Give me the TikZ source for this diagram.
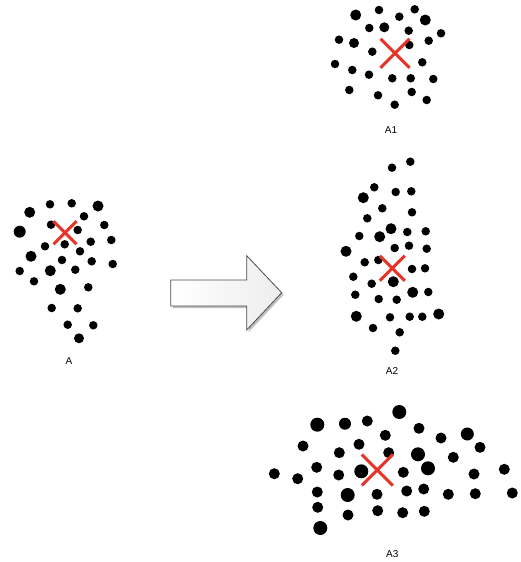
\documentclass[tikz,border=0pt]{standalone}
\usepackage{fontspec}
\setmainfont{Liberation Sans}
\usetikzlibrary{shapes.misc}
\definecolor{crossred}{RGB}{232,52,40}
\tikzset{%
  small dot/.style={
    circle,
    fill=black,
    inner sep=0pt,
    minimum size=8.5pt
  },
  big dot/.style={
    small dot,
    minimum size=11pt
  },
  small dot3/.style={
    small dot,
    minimum size=11pt
  },
  big dot3/.style={
    small dot,
    minimum size=14pt
  },
  centre mark/.style={
    cross out,
    draw=crossred,
    line width=3pt,
    inner sep=0pt,
    minimum size=#1
  },
  set label/.style={
    font=\fontsize{10}{12}\selectfont
  },
}

\begin{document}
\begin{tikzpicture}[x=1pt,y=-1pt]%[ultra thick]
  \useasboundingbox (0,0) rectangle (521,562);
  % set A
  \node [big dot ] (a-1) at ( 29.7 ,212.3) { } ;
  \node [small dot ] (a-2) at ( 50 ,204.3) { } ;
  \node [small dot ] (a-3) at ( 71.7 ,203.3) { } ;
  \node [big dot ] (a-4) at ( 98 ,206) { } ;
  \node [small dot ] (a-5) at ( 84 ,216.3) { } ;
  \node [big dot, minimum size=12pt ] (a-6) at ( 19.7 ,231.7) { } ;
  \node [small dot ] (a-7) at ( 51 ,224.7) { } ;
  \node [small dot ] (a-8) at ( 104.3 ,225) { } ;
  \node [small dot ] (a-9) at ( 77.7 ,230) { } ;
  \node [small dot ] (a-10) at ( 45 ,246.3) { } ;
  \node [small dot ] (a-11) at ( 64.7 ,244.3) { } ;
  \node [small dot ] (a-12) at ( 90.7 ,241.7) { } ;
  \node [small dot ] (a-13) at ( 111.3 ,240) { } ;
  \node [big dot ] (a-14) at ( 31 ,256.3) { } ;
  \node [small dot ] (a-15) at ( 80 ,251.3) { } ;
  \node [small dot ] (a-16) at ( 62 ,260) { } ;
  \node [small dot ] (a-17) at ( 91.7 ,261.3) { } ;
  \node [small dot ] (a-18) at ( 112.7 ,264) { } ;
  \node [small dot ] (a-19) at ( 19.7 ,271) { } ;
  \node [big dot ] (a-20) at ( 50.3 ,270.7) { } ;
  \node [small dot ] (a-21) at ( 75.3 ,269.7) { } ;
  \node [small dot ] (a-22) at ( 34 ,281.3) { } ;
  \node [big dot ] (a-23) at ( 60.3 ,289.3) { } ;
  \node [small dot ] (a-24) at ( 88.3 ,287.3) { } ;
  \node [small dot ] (a-25) at ( 51.7 ,308) { } ;
  \node [small dot ] (a-26) at ( 77.7 ,308.3) { } ;
  \node [small dot ] (a-27) at ( 67.7 ,324.7) { } ;
  \node [small dot ] (a-28) at ( 93.3 ,325.3) { } ;
  \node [big dot, minimum size=10pt ] (a-29) at ( 79 ,338.3) { } ;
  \node [centre mark=20pt ] (x-a) at ( 65 ,232.7) { } ;
  \node [set label ] (l-a) at ( 69 ,361) {A};
  % set A1
  \node [big dot ] (b-1) at ( 355.7 ,15) { } ;
  \node [small dot ] (b-2) at ( 379 ,10) { } ;
  \node [small dot ] (b-3) at ( 399.3 ,16.7) { } ;
  \node [small dot ] (b-4) at ( 414.7 ,9.3) { } ;
  \node [big dot ] (b-5) at ( 425.3 ,20) { } ;
  \node [small dot ] (b-6) at ( 369.3 ,28) { } ;
  \node [big dot, minimum size=10pt ] (b-7) at ( 384.3 ,27.3) { } ;
  \node [small dot ] (b-8) at ( 408.7 ,30.7) { } ;
  \node [small dot ] (b-9) at ( 441 ,33.3) { } ;
  \node [small dot ] (b-10) at ( 339 ,39.7) { } ;
  \node [big dot, minimum size=10pt ] (b-11) at ( 354 ,43) { } ;
  \node [small dot ] (b-12) at ( 428.7 ,40.7) { } ;
  \node [small dot ] (b-13) at ( 409.3 ,45) { } ;
  \node [small dot ] (b-14) at ( 372.3 ,51.7) { } ;
  \node [small dot ] (b-15) at ( 335 ,64) { } ;
  \node [small dot ] (b-16) at ( 352.3 ,70) { } ;
  \node [small dot ] (b-17) at ( 422.3 ,62.3) { } ;
  \node [small dot ] (b-18) at ( 369 ,74.7) { } ;
  \node [small dot ] (b-19) at ( 392.3 ,78.3) { } ;
  \node [small dot ] (b-20) at ( 410.7 ,78.3) { } ;
  \node [small dot ] (b-21) at ( 433.3 ,79) { } ;
  \node [small dot ] (b-22) at ( 349.3 ,90) { } ;
  \node [small dot ] (b-23) at ( 378 ,95.3) { } ;
  \node [small dot ] (b-24) at ( 411.7 ,92) { } ;
  \node [small dot ] (b-25) at ( 426.7 ,100) { } ;
  \node [small dot ] (b-26) at ( 394.7 ,104.7) { } ;
  \node [centre mark=26pt ] (x-b) at ( 395 ,53.3) { } ;
  \node [set label ] (l-b) at ( 391 ,130.5) {A1};
  % set A2
  \node [small dot ] (c-1) at ( 392 ,167.7) { } ;
  \node [small dot ] (c-2) at ( 410.3 ,161.7) { } ;
  \node [small dot ] (c-3) at ( 374.3 ,187.3) { } ;
  \node [big dot ] (c-4) at ( 363.3 ,197.7) { } ;
  \node [small dot ] (c-5) at ( 395.7 ,192) { } ;
  \node [small dot ] (c-6) at ( 411.3 ,191.3) { } ;
  \node [small dot ] (c-7) at ( 382.3 ,208.3) { } ;
  \node [small dot ] (c-8) at ( 412 ,212.3) { } ;
  \node [small dot ] (c-9) at ( 367.3 ,218.3) { } ;
  \node [big dot ] (c-10) at ( 391 ,228.7) { } ;
  \node [small dot ] (c-11) at ( 359.3 ,236) { } ;
  \node [big dot ] (c-12) at ( 379.7 ,236.7) { } ;
  \node [small dot ] (c-13) at ( 407.3 ,232) { } ;
  \node [small dot ] (c-14) at ( 425.7 ,231.3) { } ;
  \node [big dot ] (c-15) at ( 346 ,251.3) { } ;
  \node [small dot ] (c-16) at ( 394.7 ,248) { } ;
  \node [small dot ] (c-17) at ( 409 ,245.7) { } ;
  \node [small dot ] (c-18) at ( 426.7 ,248.7) { } ;
  \node [small dot ] (c-19) at ( 364.7 ,262.3) { } ;
  \node [small dot ] (c-20) at ( 378.3 ,260) { } ;
  \node [small dot ] (c-21) at ( 412 ,269) { } ;
  \node [small dot ] (c-22) at ( 425 ,268.3) { } ;
  \node [small dot ] (c-23) at ( 353.3 ,276.7) { } ;
  \node [small dot ] (c-24) at ( 371.7 ,283.7) { } ;
  \node [big dot ] (c-25) at ( 393.3 ,281.7) { } ;
  \node [small dot ] (c-26) at ( 355.3 ,294.7) { } ;
  \node [small dot ] (c-27) at ( 378.7 ,299) { } ;
  \node [small dot ] (c-28) at ( 396.7 ,299.7) { } ;
  \node [big dot ] (c-29) at ( 412.7 ,292.3) { } ;
  \node [small dot ] (c-30) at ( 428.3 ,292) { } ;
  \node [big dot ] (c-31) at ( 356.3 ,316.3) { } ;
  \node [small dot ] (c-32) at ( 390 ,317.3) { } ;
  \node [small dot ] (c-33) at ( 409.7 ,316.7) { } ;
  \node [small dot ] (c-34) at ( 422.3 ,316.7) { } ;
  \node [big dot ] (c-35) at ( 438.7 ,314) { } ;
  \node [small dot ] (c-36) at ( 373 ,328) { } ;
  \node [small dot ] (c-37) at ( 399.7 ,332.3) { } ;
  \node [small dot ] (c-38) at ( 395.3 ,350.7) { } ;
  \node [centre mark=22pt ] (x-c) at ( 392.3 ,268.3) { } ;
  \node [set label ] (l-c) at ( 392 ,371) {A2};
  % set A3
  \node [big dot3 ] (d-1) at ( 317.3 ,424.7) { } ;
  \node [small dot3, minimum size=12pt ] (d-2) at ( 345 ,423.7) { } ;
  \node [small dot3 ] (d-3) at ( 367.3 ,421) { } ;
  \node [big dot3 ] (d-4) at ( 399.3 ,412) { } ;
  \node [small dot3 ] (d-5) at ( 419 ,428.3) { } ;
  \node [small dot3 ] (d-6) at ( 441 ,438) { } ;
  \node [big dot3, minimum size=13pt ] (d-7) at ( 467.3 ,434) { } ;
  \node [small dot3 ] (d-8) at ( 480 ,447.3) { } ;
  \node [small dot3 ] (d-9) at ( 385.3 ,435.3) { } ;
  \node [small dot3 ] (d-10) at ( 303 ,446) { } ;
  \node [small dot3 ] (d-11) at ( 359 ,444.3) { } ;
  \node [small dot3 ] (d-12) at ( 339.3 ,452.7) { } ;
  \node [small dot3 ] (d-13) at ( 388.7 ,452.7) { } ;
  \node [big dot3 ] (d-14) at ( 418 ,454.3) { } ;
  \node [small dot3 ] (d-15) at ( 453.3 ,457.3) { } ;
  \node [small dot3 ] (d-16) at ( 316.7 ,467.3) { } ;
  \node [big dot3 ] (d-17) at ( 361.3 ,471.3) { } ;
  \node [small dot3 ] (d-18) at ( 338.7 ,475) { } ;
  \node [small dot3 ] (d-19) at ( 403.3 ,472.3) { } ;
  \node [big dot3 ] (d-20) at ( 428 ,468.3) { } ;
  \node [small dot3 ] (d-21) at ( 474 ,474) { } ;
  \node [small dot3 ] (d-22) at ( 504.3 ,469.3) { } ;
  \node [small dot3 ] (d-23) at ( 274.3 ,473.7) { } ;
  \node [small dot3 ] (d-24) at ( 297.7 ,478.7) { } ;
  \node [small dot3 ] (d-25) at ( 317.3 ,492) { } ;
  \node [big dot3 ] (d-26) at ( 347.7 ,495) { } ;
  \node [small dot3 ] (d-27) at ( 377 ,494.3) { } ;
  \node [small dot3 ] (d-28) at ( 406.7 ,491) { } ;
  \node [small dot3 ] (d-29) at ( 423.7 ,489) { } ;
  \node [small dot3 ] (d-30) at ( 448.3 ,494.3) { } ;
  \node [small dot3 ] (d-31) at ( 475.3 ,493.7) { } ;
  \node [small dot3 ] (d-32) at ( 512.3 ,493) { } ;
  \node [small dot3 ] (d-33) at ( 317.7 ,507.3) { } ;
  \node [small dot3 ] (d-34) at ( 348 ,515) { } ;
  \node [small dot3 ] (d-35) at ( 377.7 ,510.7) { } ;
  \node [small dot3 ] (d-36) at ( 402.7 ,512.7) { } ;
  \node [small dot3 ] (d-37) at ( 424.3 ,511.3) { } ;
  \node [big dot3 ] (d-38) at ( 320.3 ,528) { } ;
  \node [centre mark=28pt ] (x-d) at ( 377.3 ,470) { } ;
  \node [set label ] (l-d) at ( 392.3 ,554) {A3};
  % block arrow
  \fill [black!25] (172.7,282) -- (248.7,282) -- (248.7,257.7) -- (283.7,294.7)
    -- (248.7,332) -- (248.7,308) -- (172.7,308) -- cycle;
  \shade [left color=white, right color=black!7, draw=black!70, line width=0.8pt]
    (170.7,280) -- (246.7,280) -- (246.7,255.7) -- (281.7,292.7)
    -- (246.7,330) -- (246.7,306) -- (170.7,306) -- cycle;
\end{tikzpicture}
\end{document}
